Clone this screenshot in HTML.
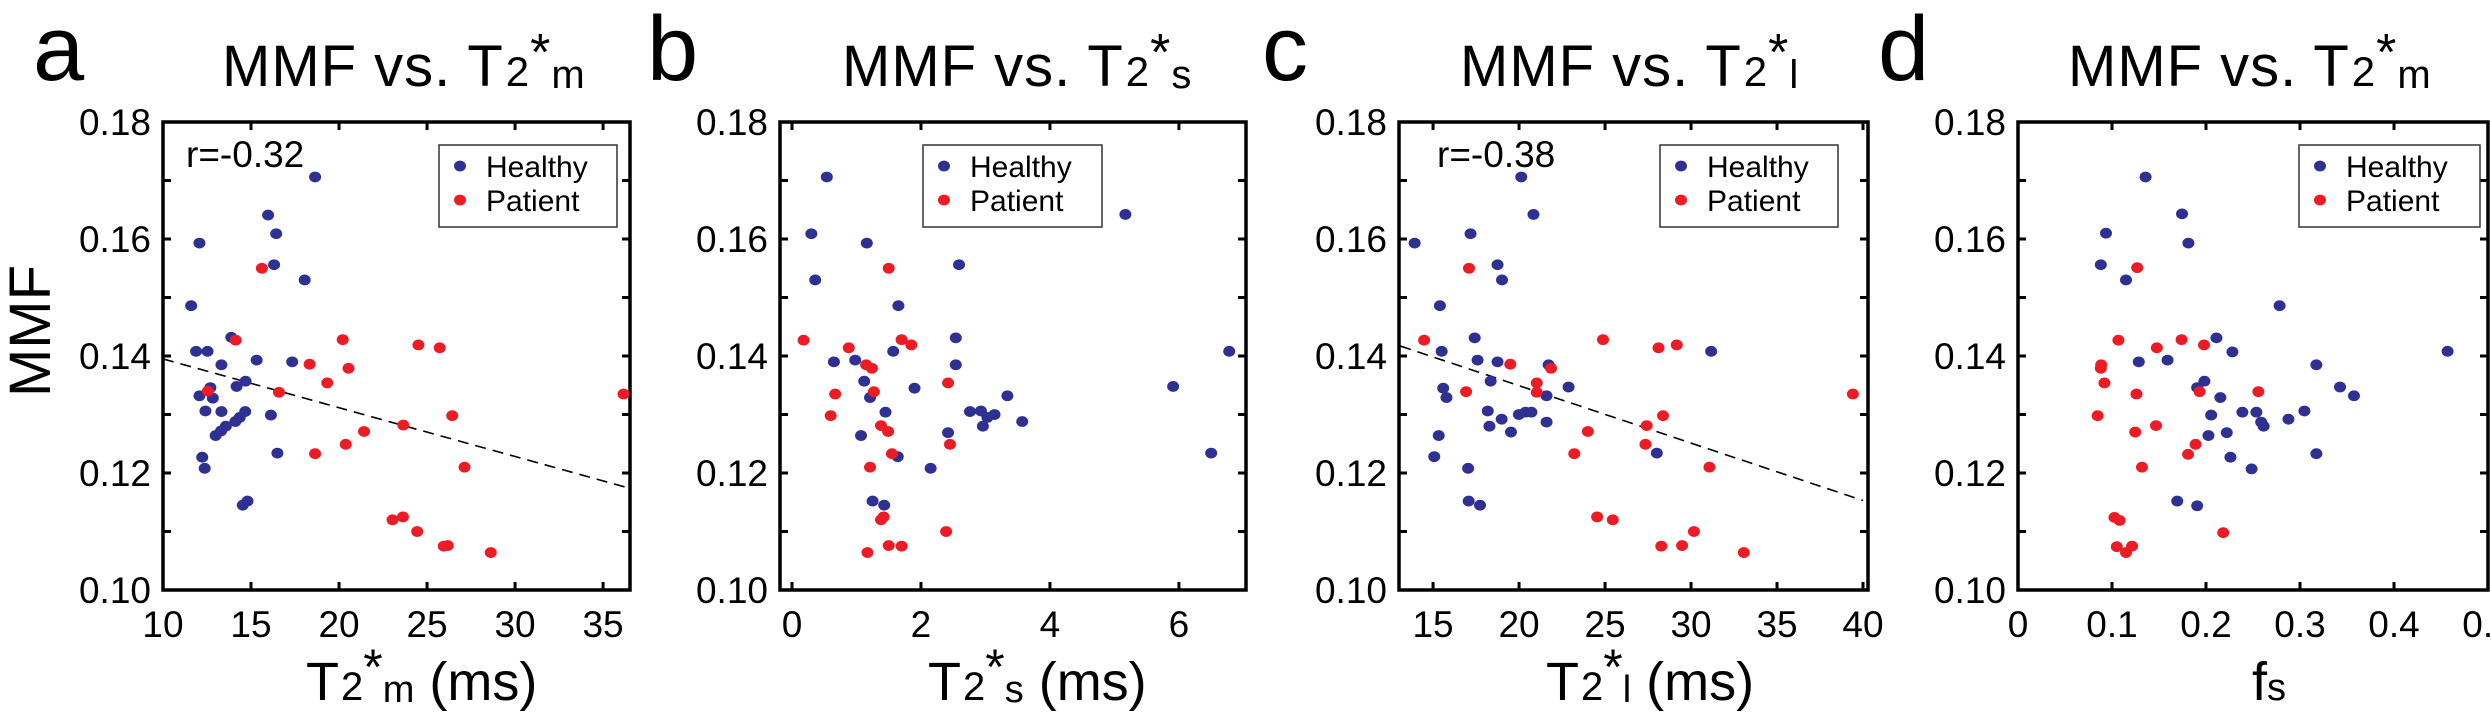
<!DOCTYPE html>
<html><head><meta charset="utf-8"><style>
html,body{margin:0;padding:0;background:#fff;}
svg{display:block;font-family:"Liberation Sans",Arial,sans-serif;}
</style></head><body>
<svg id="fig" width="2491" height="721" viewBox="0 0 2491 721" xmlns="http://www.w3.org/2000/svg"></svg>
<script>
// ---------- data ----------
const aHealthyX=[18.64,15.97,16.43,12.07,16.31,18.05,11.60,13.88,11.88,12.53,15.32,17.34,13.32,14.69,14.18,12.69,12.07,12.83,12.41,13.32,14.67,16.13,14.36,14.11,13.57,13.30,12.99,16.50,12.23,12.37,14.80,14.53];
const aHealthyY=[0.1706,0.1641,0.1609,0.1593,0.1556,0.1530,0.1486,0.1432,0.1408,0.1408,0.1393,0.1390,0.1385,0.1357,0.1348,0.1346,0.1332,0.1328,0.1306,0.1305,0.1305,0.1299,0.1295,0.1288,0.1280,0.1272,0.1264,0.1234,0.1227,0.1208,0.1152,0.1145];
const aPatientX=[15.62,14.13,20.21,24.51,25.72,18.33,20.54,19.33,12.55,16.59,36.16,26.43,23.65,21.42,20.38,18.64,27.13,23.04,23.63,24.44,25.95,26.18,28.62];
const aPatientY=[0.1550,0.1427,0.1428,0.1419,0.1414,0.1386,0.1379,0.1354,0.1340,0.1338,0.1335,0.1298,0.1282,0.1271,0.1249,0.1233,0.1210,0.1120,0.1125,0.1100,0.1075,0.1076,0.1064];
const aFitX=[10,36.5];
const aFitY=[0.1395,0.1174];

const bHealthyX=[0.54,0.30,1.16,2.59,0.36,1.65,2.54,1.57,6.78,0.65,0.98,2.54,1.12,1.90,5.91,1.21,3.34,1.45,2.76,2.93,3.14,3.03,2.96,3.57,1.07,2.42,1.64,6.50,2.15,1.25,1.43,5.17];
const bHealthyY=[0.1706,0.1609,0.1593,0.1556,0.1530,0.1486,0.1431,0.1408,0.1408,0.1390,0.1393,0.1385,0.1357,0.1345,0.1348,0.1329,0.1332,0.1304,0.1305,0.1306,0.1300,0.1295,0.1280,0.1288,0.1264,0.1269,0.1228,0.1234,0.1208,0.1152,0.1145,0.1642];
const bPatientX=[1.50,0.18,1.70,1.85,0.88,1.15,1.24,2.42,0.67,1.27,0.60,1.38,1.49,2.45,1.55,1.21,1.38,1.42,2.39,1.50,1.70,1.17];
const bPatientY=[0.1550,0.1427,0.1428,0.1419,0.1414,0.1385,0.1379,0.1354,0.1335,0.1339,0.1298,0.1281,0.1271,0.1249,0.1233,0.1210,0.1120,0.1125,0.1100,0.1076,0.1075,0.1064];

const cHealthyX=[20.13,20.84,17.18,13.93,18.75,19.01,15.40,17.42,15.50,31.17,17.59,18.75,21.72,18.35,22.88,15.59,15.78,21.60,18.18,19.99,20.37,20.72,18.99,18.28,21.60,19.53,15.33,15.07,28.01,17.04,17.07,17.73];
const cHealthyY=[0.1706,0.1642,0.1609,0.1593,0.1556,0.1530,0.1486,0.1431,0.1408,0.1408,0.1393,0.1390,0.1385,0.1357,0.1347,0.1345,0.1329,0.1332,0.1306,0.1300,0.1304,0.1304,0.1292,0.1280,0.1287,0.1270,0.1264,0.1228,0.1234,0.1208,0.1152,0.1145];
const cPatientX=[17.09,14.48,24.88,29.17,28.11,19.49,21.86,21.03,16.92,21.03,39.41,28.37,27.42,24.00,27.35,23.21,31.07,24.54,25.45,30.17,28.27,29.48,33.07];
const cPatientY=[0.1550,0.1427,0.1428,0.1419,0.1414,0.1386,0.1379,0.1354,0.1339,0.1338,0.1335,0.1298,0.1281,0.1271,0.1249,0.1233,0.1210,0.1125,0.1120,0.1100,0.1075,0.1076,0.1064];
const cFitX=[13.1,40.0];
const cFitY=[0.1417,0.1153];

const dHealthyX=[0.1357,0.1745,0.0936,0.1813,0.0881,0.1149,0.2783,0.2111,0.2281,0.4570,0.1285,0.1591,0.3174,0.1983,0.1906,0.3426,0.2153,0.3574,0.2055,0.2387,0.2536,0.3047,0.2877,0.2587,0.2613,0.2026,0.2221,0.2260,0.3174,0.2485,0.1694,0.1906];
const dHealthyY=[0.1706,0.1643,0.1610,0.1593,0.1556,0.1530,0.1486,0.1431,0.1407,0.1408,0.1390,0.1393,0.1385,0.1357,0.1346,0.1347,0.1329,0.1332,0.1299,0.1304,0.1304,0.1306,0.1292,0.1287,0.1280,0.1264,0.1269,0.1227,0.1233,0.1207,0.1152,0.1144];
const dPatientX=[0.1268,0.1068,0.1740,0.1979,0.1477,0.0885,0.0881,0.0919,0.1260,0.1932,0.2557,0.0847,0.1468,0.1247,0.1889,0.1809,0.1319,0.1026,0.1081,0.2183,0.1051,0.1213,0.1149];
const dPatientY=[0.1551,0.1427,0.1428,0.1419,0.1414,0.1385,0.1379,0.1354,0.1335,0.1339,0.1339,0.1298,0.1281,0.1270,0.1249,0.1232,0.1210,0.1124,0.1119,0.1098,0.1074,0.1075,0.1064];

const yTickValues=[0.10,0.11,0.12,0.13,0.14,0.15,0.16,0.17,0.18];
const yTickLabels=["0.10","","0.12","","0.14","","0.16","","0.18"];
const aXTicks=[10,15,20,25,30,35];
const aXLabels=["10","15","20","25","30","35"];
const bXTicks=[0,2,4,6];
const bXLabels=["0","2","4","6"];
const cXTicks=[15,20,25,30,35,40];
const cXLabels=["15","20","25","30","35","40"];
const dXTicks=[0,0.1,0.2,0.3,0.4,0.5];
const dXLabels=["0","0.1","0.2","0.3","0.4","0.5"];
const rLabels=["r=-0.32","r=-0.38"];

// ---------- drawing ----------
const NS="http://www.w3.org/2000/svg";
const svg=document.getElementById('fig');
function mk(tag,attrs,parent){const e=document.createElementNS(NS,tag);for(const k in attrs)e.setAttribute(k,attrs[k]);(parent||svg).appendChild(e);return e;}
const TOP=122,BOT=590,YMIN=0.10,YMAX=0.18;
const BLUE="#2e3192",RED="#ed1c24";

function drawPanel(p){
  const g=mk('g',{});
  
  
  const sx=v=>p.left+(v-p.xmin)/(p.xmax-p.xmin)*(p.right-p.left);
  const sy=v=>BOT-(v-YMIN)/(YMAX-YMIN)*(BOT-TOP);
  const L=mk('text',{x:p.letterX,y:80,'font-size':92,fill:'#000'},g);L.textContent=p.id;
  
  
  const T=mk('text',{x:p.titleX,y:86,'font-size':58,fill:'#000','letter-spacing':'1'},g);
  
  
  T.innerHTML='MMF vs. T<tspan font-size="42" dx="2">2</tspan><tspan font-size="52" dy="-16">*</tspan><tspan font-size="40" dy="18">'+p.sub+'</tspan>';
  const tk=mk('g',{stroke:'#000','stroke-width':3},g);
  
  
  yTickValues.forEach((v,i)=>{
    const y=sy(v);
    mk('line',{x1:p.left,x2:p.left+8,y1:y,y2:y},tk);
    mk('line',{x1:p.right,x2:p.right-8,y1:y,y2:y},tk);
    if(yTickLabels[i]){const t=mk('text',{x:p.left-12,y:y+13,'font-size':37,'text-anchor':'end',stroke:'none',fill:'#000'},g);t.textContent=yTickLabels[i];
      
      }
  });
  p.xt.forEach((v,i)=>{
    const x=sx(v);
    mk('line',{x1:x,x2:x,y1:BOT,y2:BOT-8},tk);
    mk('line',{x1:x,x2:x,y1:TOP,y2:TOP+8},tk);
    const t=mk('text',{x:x,y:637,'font-size':37,'text-anchor':'middle',fill:'#000'},g);t.textContent=p.xl[i];
    
    
  });
  const fr=mk('rect',{x:p.left,y:TOP,width:p.right-p.left,height:BOT-TOP,fill:'none',stroke:'#000','stroke-width':3.5},g);
  
  
  if(p.fx){
    const ln=mk('line',{x1:sx(p.fx[0]),y1:sy(p.fy[0]),x2:sx(p.fx[1]),y2:sy(p.fy[1]),stroke:'#000','stroke-width':1.6,'stroke-dasharray':'11,7'},g);
    
    
  }
  const series=[[p.hx,p.hy,BLUE,'healthy-point'],[p.px,p.py,RED,'patient-point']];
  series.forEach(s=>{s[0].forEach((xv,i)=>{
    const c=mk('ellipse',{cx:sx(xv),cy:sy(s[1][i]),rx:6,ry:5.4,fill:s[2]},g);
    
    
  });});
  const lg=mk('g',{},g);
  
  
  mk('rect',{x:p.legX,y:145,width:p.legW,height:82,fill:'#fff',stroke:'#333','stroke-width':1.5},lg);
  mk('ellipse',{cx:p.legX+21,cy:166,rx:6,ry:5.4,fill:BLUE},lg);
  mk('ellipse',{cx:p.legX+21,cy:200,rx:6,ry:5.4,fill:RED},lg);
  const h=mk('text',{x:p.legX+47,y:177,'font-size':30,fill:'#000'},lg);h.textContent='Healthy';
  
  
  const q=mk('text',{x:p.legX+47,y:211,'font-size':30,fill:'#000'},lg);q.textContent='Patient';
  
  
  if(p.r){const r=mk('text',{x:p.rX,y:167,'font-size':37,fill:'#000'},g);r.textContent=p.r;
    
    }
  const xt=mk('text',{x:p.xtX,y:700,'font-size':54,fill:'#000'},g);
  
  
  if(p.sub2==='fs'){xt.innerHTML='f<tspan font-size="38">s</tspan>';}
  else xt.innerHTML='T<tspan font-size="40" dx="2">2</tspan><tspan font-size="50" dy="-16">*</tspan><tspan font-size="38" dy="18">'+p.sub+'</tspan><tspan dy="-2"> (ms)</tspan>';
}

drawPanel({id:'a',sub:'m',left:163,right:630,xmin:10,xmax:36.53,xt:aXTicks,xl:aXLabels,hx:aHealthyX,hy:aHealthyY,px:aPatientX,py:aPatientY,fx:aFitX,fy:aFitY,letterX:33,titleX:222,legX:439,legW:178,r:rLabels[0],rX:186,xtX:306});
drawPanel({id:'b',sub:'s',left:780,right:1246,xmin:-0.186,xmax:7.04,xt:bXTicks,xl:bXLabels,hx:bHealthyX,hy:bHealthyY,px:bPatientX,py:bPatientY,letterX:647,titleX:842,legX:923,legW:179,xtX:928});
drawPanel({id:'c',sub:'l',left:1399,right:1868,xmin:13.02,xmax:40.29,xt:cXTicks,xl:cXLabels,hx:cHealthyX,hy:cHealthyY,px:cPatientX,py:cPatientY,fx:cFitX,fy:cFitY,letterX:1262,titleX:1460,legX:1660,legW:178,r:rLabels[1],rX:1437,xtX:1546});
drawPanel({id:'d',sub:'m',sub2:'fs',left:2018,right:2488,xmin:0,xmax:0.5,xt:dXTicks,xl:dXLabels,hx:dHealthyX,hy:dHealthyY,px:dPatientX,py:dPatientY,letterX:1878,titleX:2068,legX:2299,legW:181,xtX:2252});

const yt=mk('text',{x:0,y:0,'font-size':58,fill:'#000','text-anchor':'middle',transform:'translate(50,331) rotate(-90)'});
yt.textContent='MMF';


</script>
</body></html>
